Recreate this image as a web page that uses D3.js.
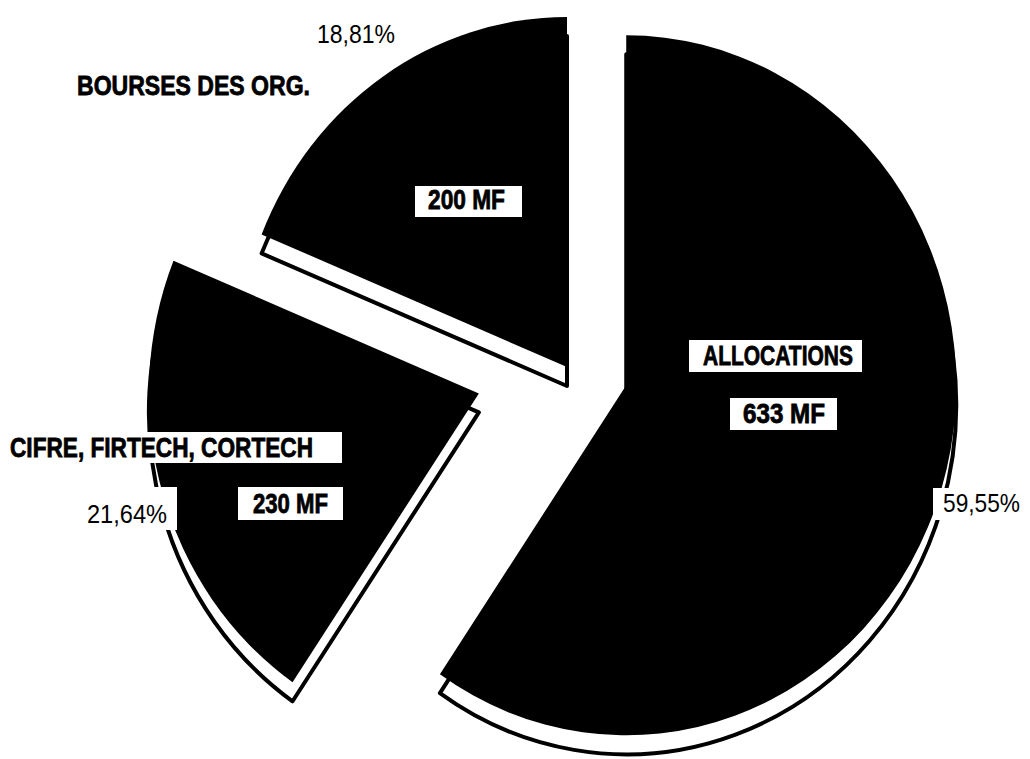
<!DOCTYPE html>
<html>
<head>
<meta charset="utf-8">
<script src="https://cdn.jsdelivr.net/npm/d3@7/dist/d3.min.js"></script>
<style>
  html, body { margin: 0; padding: 0; background: #fff; }
  svg { display: block; }
</style>
</head>
<body>
<svg id="chart" width="1030" height="759"></svg>
<script>
// Funding of doctoral grants, in millions of francs
const categories = ["ALLOCATIONS", "CIFRE, FIRTECH, CORTECH", "BOURSES DES ORG."];
const amounts = [633, 230, 200];
const amountLabels = ["633 MF", "230 MF", "200 MF"];

// Pie geometry (pixel space)
const center = { x: 567, y: 367 };
const radiusY = 350;
const radiusX = 330;
const explode = [62, 92, 0];
const depth = 19;

// Label placement: left x, baseline y, rendered width, optional white box [x0, y0, x1, y1]
const nameLayout = [
  { x: 703, y: 365, w: 150, box: [689, 340, 862, 372] },
  { x: 10,  y: 457, w: 303, box: [0, 432, 342, 463] },
  { x: 77,  y: 95,  w: 233, box: null }
];
const amountLayout = [
  { x: 743, y: 423, w: 82, box: [730, 398, 837, 430] },
  { x: 253, y: 513, w: 75, box: [238, 487, 343, 520] },
  { x: 428, y: 209, w: 77, box: [415, 186, 522, 217] }
];
const shareLayout = [
  { x: 943, y: 512, w: 77, box: [933, 488, 1026, 520] },
  { x: 87,  y: 523, w: 80, box: [80, 487, 177, 530] },
  { x: 317, y: 43,  w: 78, box: null }
];

const svg = d3.select("#chart");
const total = d3.sum(amounts);
const pctFmt = v => d3.format(".2f")(v).replace(".", ",") + "%";

const pie = d3.pie().sort(null).value(d => d)(amounts);
const arc = d3.arc().innerRadius(0).outerRadius(radiusY);

// Apex of each slice after pulling it out along its bisector
const apex = pie.map((p, i) => {
  const mid = (p.startAngle + p.endAngle) / 2;
  return {
    x: center.x + Math.sin(mid) * explode[i],
    y: center.y - Math.cos(mid) * explode[i]
  };
});

const sx = radiusX / radiusY;

// Side walls: each slice repeated lower, white with a black rim
const sides = svg.append("g");
pie.forEach((p, i) => {
  sides.append("path")
    .attr("d", arc(p))
    .attr("transform", `translate(${apex[i].x},${apex[i].y + depth}) scale(${sx},1)`)
    .attr("fill", "#fff")
    .attr("stroke", "#000")
    .attr("stroke-width", 4)
    .attr("stroke-linejoin", "round")
    .attr("vector-effect", "non-scaling-stroke");
});

// Top faces
const faces = svg.append("g");
pie.forEach((p, i) => {
  faces.append("path")
    .attr("d", arc(p))
    .attr("transform", `translate(${apex[i].x},${apex[i].y}) scale(${sx},1)`)
    .attr("fill", "#000");
});

// Labels
const labels = svg.append("g")
  .attr("font-family", "'Liberation Sans', Arial, Helvetica, sans-serif");

function drawLabel(text, lay, bold) {
  if (lay.box) {
    labels.append("rect")
      .attr("x", lay.box[0]).attr("y", lay.box[1])
      .attr("width", lay.box[2] - lay.box[0])
      .attr("height", lay.box[3] - lay.box[1])
      .attr("fill", "#fff");
  }
  labels.append("text")
    .attr("x", lay.x).attr("y", lay.y)
    .attr("font-size", bold ? 27 : 26)
    .attr("font-weight", bold ? "bold" : "normal")
    .attr("textLength", lay.w)
    .attr("lengthAdjust", "spacingAndGlyphs")
    .attr("fill", "#000")
    .attr("stroke", bold ? "#000" : "none")
    .attr("stroke-width", bold ? 0.8 : 0)
    .text(text);
}

amounts.forEach((v, i) => {
  drawLabel(categories[i], nameLayout[i], true);
  drawLabel(amountLabels[i], amountLayout[i], true);
  drawLabel(pctFmt(v / total * 100), shareLayout[i], false);
});
</script>
</body>
</html>
